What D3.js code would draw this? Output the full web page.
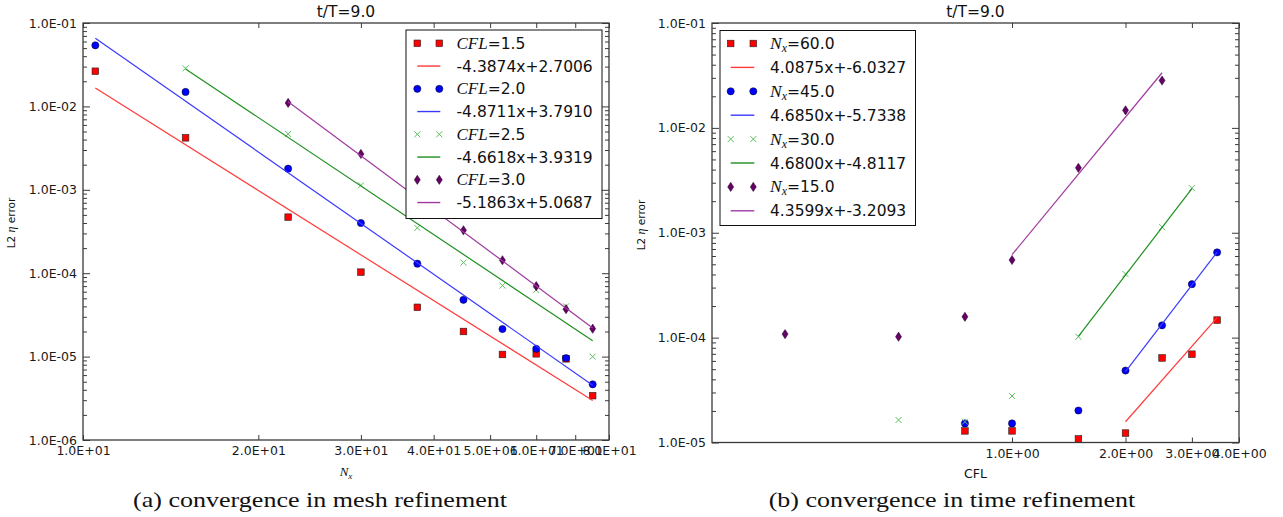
<!DOCTYPE html>
<html><head><meta charset="utf-8">
<script src="https://cdn.jsdelivr.net/npm/d3@7"></script>
<style>
html,body{margin:0;padding:0;background:#fff;}
svg{display:block;}
</style></head><body>
<svg id="chart" width="1283" height="517"></svg>
<script>
// ================= DATA =================
const plotTitle = "t/T=9.0";
const yLabelPre = "L2 ", yLabelEta = "η", yLabelPost = " error";
const captionA = "(a) convergence in mesh refinement";
const captionB = "(b) convergence in time refinement";

// ---- panel (a): error vs Nx, one series per CFL ----
const meshCFLNames = ["1.5", "2.0", "2.5", "3.0"];
const meshNx15 = [10.5, 15, 22.5, 30, 37.5, 45, 52.5, 60, 67.5, 75];
const meshErr15 = [2.64e-2, 4.2e-3, 4.7e-4, 1.03e-4, 3.9e-5, 2.0e-5, 1.06e-5, 1.08e-5, 9.4e-6, 3.4e-6];
const meshNx20 = [10.5, 15, 22.5, 30, 37.5, 45, 52.5, 60, 67.5, 75];
const meshErr20 = [5.4e-2, 1.49e-2, 1.79e-3, 4.0e-4, 1.30e-4, 4.8e-5, 2.14e-5, 1.24e-5, 9.6e-6, 4.65e-6];
const meshNx25 = [15, 22.5, 30, 37.5, 45, 52.5, 60, 67.5, 75];
const meshErr25 = [2.86e-2, 4.67e-3, 1.13e-3, 3.5e-4, 1.34e-4, 7.1e-5, 6.3e-5, 4.0e-5, 1.0e-5];
const meshNx30 = [22.5, 30, 37.5, 45, 52.5, 60, 67.5, 75];
const meshErr30 = [1.1e-2, 2.69e-3, 8.2e-4, 3.27e-4, 1.43e-4, 7.0e-5, 3.7e-5, 2.16e-5];
const meshFitSlope = [-4.3874, -4.8711, -4.6618, -5.1863];
const meshFitIntercept = [2.7006, 3.7910, 3.9319, 5.0687];
const meshXTicks = [10, 20, 30, 40, 50, 60, 70, 80];
const meshYTicks = [1e-6, 1e-5, 1e-4, 1e-3, 1e-2, 1e-1];

// ---- panel (b): error vs CFL, one series per Nx ----
const timeNxNames = ["60.0", "45.0", "30.0", "15.0"];
const timeCFL60 = [0.75, 1.0, 1.5, 2.0, 2.5, 3.0, 3.5];
const timeErr60 = [1.29e-5, 1.29e-5, 1.08e-5, 1.23e-5, 6.4e-5, 6.95e-5, 1.47e-4];
const timeCFL45 = [0.75, 1.0, 1.5, 2.0, 2.5, 3.0, 3.5];
const timeErr45 = [1.52e-5, 1.52e-5, 2.02e-5, 4.85e-5, 1.31e-4, 3.23e-4, 6.5e-4];
const timeCFL30 = [0.5, 0.75, 1.0, 1.5, 2.0, 2.5, 3.0];
const timeErr30 = [1.64e-5, 1.58e-5, 2.78e-5, 1.02e-4, 4.04e-4, 1.13e-3, 2.66e-3];
const timeCFL15 = [0.25, 0.5, 0.75, 1.0, 1.5, 2.0, 2.5];
const timeErr15 = [1.08e-4, 1.02e-4, 1.58e-4, 5.5e-4, 4.16e-3, 1.47e-2, 2.83e-2];
const timeFitSlope = [4.0875, 4.6850, 4.6800, 4.3599];
const timeFitIntercept = [-6.0327, -5.7338, -4.8117, -3.2093];
const timeFitFrom = [2.0, 2.0, 1.5, 1.0];
const timeFitTo = [3.5, 3.5, 3.0, 2.5];
const timeXTicks = [1, 2, 3, 4];
const timeYTicks = [1e-5, 1e-4, 1e-3, 1e-2, 1e-1];

// ================= STYLE =================
const markerKinds = ["square", "circle", "x", "diamond"];
const markerFill = ["#ff0000", "#0000ff", "#5cbf5c", "#660066"];
const lineColors = ["#ff3a3a", "#3a3aff", "#1f8f1f", "#a03aa0"];
const SANS = "DejaVu Sans, Bitstream Vera Sans, sans-serif";
const SERIF_I = "Liberation Serif, Times New Roman, serif";
const SPINE = "#3a3a3a";

const svg = d3.select("#chart");

const fmtE = v => {
  const e = Math.floor(Math.log10(v) + 1e-9);
  const m = v / Math.pow(10, e);
  return m.toFixed(1) + "E" + (e < 0 ? "-" : "+") + String(Math.abs(e)).padStart(2, "0");
};
function minorTicks(domain) {
  const out = [];
  const k0 = Math.floor(Math.log10(domain[0])), k1 = Math.ceil(Math.log10(domain[1]));
  for (let k = k0; k < k1; k++) for (let m = 2; m <= 9; m++) {
    const v = m * Math.pow(10, k);
    if (v > domain[0] * 1.0001 && v < domain[1] * 0.9999) out.push(v);
  }
  return out;
}

function marker(g, kind, cx, cy) {
  if (kind === "square") {
    g.append("rect").attr("x", cx - 3.3).attr("y", cy - 3.3).attr("width", 6.6).attr("height", 6.6)
      .attr("fill", markerFill[0]).attr("stroke", "#222").attr("stroke-width", 0.6);
  } else if (kind === "circle") {
    g.append("circle").attr("cx", cx).attr("cy", cy).attr("r", 3.6)
      .attr("fill", markerFill[1]).attr("stroke", "#001").attr("stroke-width", 0.5);
  } else if (kind === "x") {
    const s = 3;
    g.append("path").attr("d", `M${cx - s},${cy - s}L${cx + s},${cy + s}M${cx - s},${cy + s}L${cx + s},${cy - s}`)
      .attr("stroke", markerFill[2]).attr("stroke-width", 1).attr("fill", "none");
  } else {
    const w = 3, h = 4.6;
    g.append("path").attr("d", `M${cx},${cy - h}L${cx + w},${cy}L${cx},${cy + h}L${cx - w},${cy}Z`)
      .attr("fill", markerFill[3]).attr("stroke", "#200020").attr("stroke-width", 0.5);
  }
}

function drawPanel(p) {
  const g = svg.append("g");
  const x = d3.scaleLog().domain(p.xDomain).range([p.x0, p.x1]);
  const y = d3.scaleLog().domain(p.yDomain).range([p.y1, p.y0]);

  // series: markers then fit line, in order
  p.series.forEach((s, i) => {
    const sg = g.append("g");
    s.xs.forEach((xv, j) => marker(sg, markerKinds[i], x(xv), y(s.ys[j])));
    const fx = [s.fitFrom, s.fitTo];
    const pts = fx.map(v => [v, Math.pow(10, s.slope * Math.log10(v) + s.intercept)]);
    sg.append("path").attr("d", d3.line().x(d => x(d[0])).y(d => y(d[1]))(pts))
      .attr("fill", "none").attr("stroke", lineColors[i]).attr("stroke-width", 1.2);
  });

  // axes (ticks inward)
  const styleAxis = a => {
    a.select(".domain").remove();
    a.selectAll(".tick line").attr("stroke", SPINE).attr("stroke-width", 1);
    a.selectAll(".tick text").attr("fill", "#1a1a1a").style("font-family", SANS).style("font-size", "12.5px");
  };
  const yMinor = minorTicks(p.yDomain);
  g.append("g").attr("transform", `translate(${p.x0},0)`)
    .call(d3.axisLeft(y).tickValues(p.yTicks).tickSize(-7).tickPadding(6).tickFormat(fmtE)).call(styleAxis);
  g.append("g").attr("transform", `translate(${p.x0},0)`)
    .call(d3.axisLeft(y).tickValues(yMinor).tickSize(-4).tickFormat("")).call(styleAxis);
  g.append("g").attr("transform", `translate(${p.x1},0)`)
    .call(d3.axisRight(y).tickValues(p.yTicks).tickSize(-7).tickFormat("")).call(styleAxis);
  g.append("g").attr("transform", `translate(${p.x1},0)`)
    .call(d3.axisRight(y).tickValues(yMinor).tickSize(-4).tickFormat("")).call(styleAxis);
  g.append("g").attr("transform", `translate(0,${p.y1})`)
    .call(d3.axisBottom(x).tickValues(p.xTicks).tickSize(-5).tickPadding(p.xPad).tickFormat(fmtE)).call(styleAxis);
  g.append("g").attr("transform", `translate(0,${p.y0})`)
    .call(d3.axisTop(x).tickValues(p.xTicks).tickSize(-5).tickFormat("")).call(styleAxis);

  // spines
  g.append("rect").attr("x", p.x0).attr("y", p.y0).attr("width", p.x1 - p.x0).attr("height", p.y1 - p.y0)
    .attr("fill", "none").attr("stroke", SPINE).attr("stroke-width", 1.3);

  // title
  g.append("text").attr("x", (p.x0 + p.x1) / 2).attr("y", 17).attr("text-anchor", "middle")
    .style("font-family", SANS).style("font-size", "15.5px").attr("fill", "#111").text(plotTitle);

  // y label
  const yl = g.append("text").attr("transform", `translate(${p.yLabelX},${p.yLabelY}) rotate(-90)`)
    .attr("text-anchor", "middle").style("font-family", SANS).style("font-size", "10.5px").attr("fill", "#111");
  yl.append("tspan").text(yLabelPre);
  yl.append("tspan").style("font-family", SERIF_I).style("font-style", "italic").style("font-size", "12px").text(yLabelEta);
  yl.append("tspan").text(yLabelPost);

  // x label
  p.xLabel(g);

  // legend
  const L = p.legend;
  const lg = g.append("g");
  lg.append("rect").attr("x", L.x).attr("y", L.y).attr("width", L.w).attr("height", L.h)
    .attr("fill", "#fff").attr("stroke", "#111").attr("stroke-width", 1);
  p.series.forEach((s, i) => {
    const r1 = L.row0 + (2 * i) * L.dy, r2 = L.row0 + (2 * i + 1) * L.dy;
    marker(lg, markerKinds[i], L.mx1, r1);
    marker(lg, markerKinds[i], L.mx2, r1);
    p.legendName(lg, L.tx, r1 + 5.5, s.name);
    lg.append("line").attr("x1", L.mx1).attr("x2", L.mx2 + 1).attr("y1", r2).attr("y2", r2)
      .attr("stroke", lineColors[i]).attr("stroke-width", 1.4);
    lg.append("text").attr("x", L.tx).attr("y", r2 + 5.5).style("font-family", SANS).style("font-size", "15.5px")
      .attr("fill", "#111").text(s.slope.toFixed(4) + "x+" + s.intercept.toFixed(4));
  });
}

// ---- panel (a) ----
const meshXs = [meshNx15, meshNx20, meshNx25, meshNx30];
const meshYs = [meshErr15, meshErr20, meshErr25, meshErr30];
drawPanel({
  x0: 83, x1: 609, y0: 23, y1: 440, xPad: 6,
  xDomain: [10, 80], yDomain: [1e-6, 1e-1],
  xTicks: meshXTicks, yTicks: meshYTicks,
  yLabelX: 15, yLabelY: 223,
  series: meshCFLNames.map((n, i) => ({
    name: n, xs: meshXs[i], ys: meshYs[i], slope: meshFitSlope[i], intercept: meshFitIntercept[i],
    fitFrom: meshXs[i][0], fitTo: meshXs[i][meshXs[i].length - 1]
  })),
  xLabel: g => {
    const t = g.append("text").attr("x", 346).attr("y", 476).attr("text-anchor", "middle").attr("fill", "#111");
    t.append("tspan").style("font-family", SERIF_I).style("font-style", "italic").style("font-size", "13px").text("N");
    t.append("tspan").attr("dy", 2.5).style("font-family", SERIF_I).style("font-style", "italic").style("font-size", "9px").text("x");
  },
  legend: { x: 406, y: 30, w: 196, h: 188.5, row0: 43.3, dy: 22.75, mx1: 417.3, mx2: 439.3, tx: 456.5 },
  legendName: (lg, x, y, name) => {
    const t = lg.append("text").attr("x", x).attr("y", y).attr("fill", "#111").style("font-family", SANS).style("font-size", "15.5px");
    t.append("tspan").style("font-family", SERIF_I).style("font-style", "italic").style("font-size", "17px").text("CFL");
    t.append("tspan").text("=" + name);
  }
});

// ---- panel (b) ----
const timeXs = [timeCFL60, timeCFL45, timeCFL30, timeCFL15];
const timeYs = [timeErr60, timeErr45, timeErr30, timeErr15];
drawPanel({
  x0: 712, x1: 1239, y0: 23, y1: 442.5, xPad: 6.5,
  xDomain: [0.16, 4], yDomain: [1e-5, 1e-1],
  xTicks: timeXTicks, yTicks: timeYTicks,
  yLabelX: 645, yLabelY: 225,
  series: timeNxNames.map((n, i) => ({
    name: n, xs: timeXs[i], ys: timeYs[i], slope: timeFitSlope[i], intercept: timeFitIntercept[i],
    fitFrom: timeFitFrom[i], fitTo: timeFitTo[i]
  })),
  xLabel: g => {
    g.append("text").attr("x", 975.5).attr("y", 478).attr("text-anchor", "middle").attr("fill", "#111")
      .style("font-family", SANS).style("font-size", "12.5px").text("CFL");
  },
  legend: { x: 720, y: 30.5, w: 195.5, h: 195, row0: 43.5, dy: 23.9, mx1: 730.7, mx2: 753.3, tx: 770 },
  legendName: (lg, x, y, name) => {
    const t = lg.append("text").attr("x", x).attr("y", y).attr("fill", "#111").style("font-family", SANS).style("font-size", "15.5px");
    t.append("tspan").style("font-family", SERIF_I).style("font-style", "italic").style("font-size", "17.5px").text("N");
    t.append("tspan").attr("dy", 3).style("font-family", SERIF_I).style("font-style", "italic").style("font-size", "12px").text("x");
    t.append("tspan").attr("dy", -3).text("=" + name);
  }
});

// ---- captions ----
function caption(txt, cx, targetW) {
  const t = svg.append("text").attr("text-anchor", "middle").style("font-family", "Liberation Serif, serif")
    .style("font-size", "22px").attr("fill", "#111").text(txt);
  const w = t.node().getComputedTextLength();
  const sx = targetW / w;
  t.attr("transform", `translate(${cx},507) scale(${sx},1)`);
  return sx;
}
const tmp = svg.append("text").style("font-family", "Liberation Serif, serif").style("font-size", "22px").text(captionA);
const sxA = 374 / tmp.node().getComputedTextLength();
tmp.remove();
[[captionA, 320], [captionB, 952]].forEach(([txt, cx]) => {
  svg.append("text").attr("text-anchor", "middle").style("font-family", "Liberation Serif, serif")
    .style("font-size", "22px").attr("fill", "#111").attr("transform", `translate(${cx},507) scale(${sxA},1)`).text(txt);
});
</script>
</body></html>
